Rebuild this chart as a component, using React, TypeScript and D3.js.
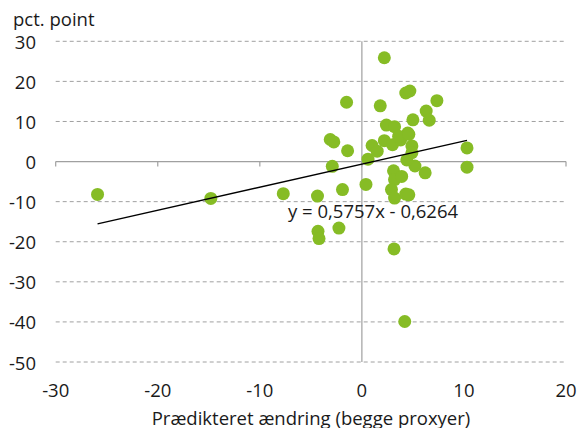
import React from "react";
import * as d3 from "d3";

const xValues = [
  -25.9, -14.8, -7.7, 2.2, -1.5, 1.8, 4.3, 4.7, 7.35, 6.3, 6.6, 5.0, 2.4, 3.2, 4.5,
  -3.1, -2.75, -1.4, -2.9, -4.35, -1.9, 0.4, 0.6, 1.0, 1.5, 2.2, 3.0, 3.8, 3.6, 4.9,
  4.9, 5.2, 6.2, 4.4, 3.1, 3.2, 3.9, 2.9, 3.2, 4.3, 4.6, 10.3, 10.3, -4.3, -4.2,
  -2.25, 3.15, 4.2, 4.6,
];
const yValues = [
  -8.2, -9.2, -8.0, 25.9, 14.8, 13.9, 17.1, 17.6, 15.2, 12.6, 10.3, 10.4, 9.1, 8.7, 7.1,
  5.5, 4.9, 2.7, -1.2, -8.6, -7.0, -5.7, 0.6, 4.0, 2.6, 5.2, 4.2, 5.4, 6.3, 3.9,
  2.2, -1.1, -2.8, 0.4, -2.3, -4.5, -3.7, -7.0, -9.1, -8.1, -8.3, 3.4, -1.4, -17.4, -19.2,
  -16.6, -21.8, -39.9, 6.8,
];
const xTicks = [-30, -20, -10, 0, 10, 20];
const yTicks = [30, 20, 10, 0, -10, -20, -30, -40, -50];
const slope = 0.5757;
const intercept = -0.6264;
const equationLabel = "y = 0,5757x - 0,6264";
const yTitle = "pct. point";
const xTitle = "Prædikteret ændring (begge proxyer)";

export default function App() {
  const W = 579, H = 428;
  const x = d3.scaleLinear().domain([-30, 20]).range([55.7, 566]);
  const y = d3.scaleLinear().domain([-50, 30]).range([362, 41.3]);
  const font = "'Open Sans', sans-serif";
  const fs = 18.5;
  const textColor = "#1a1a1a";
  const gridColor = "#a0a0a0";
  const pts = xValues.map((v, i) => [v, yValues[i]] as [number, number]);
  const xMin = d3.min(xValues) as number;
  const xMax = d3.max(xValues) as number;
  const line = d3.line<number>().x((d) => x(d)).y((d) => y(slope * d + intercept));
  return (
    <svg width={W} height={H} style={{ position: "absolute", left: 0, top: 0 }} fontFamily={font}>
      <rect width={W} height={H} fill="#fff" />
      {yTicks.filter((t) => t !== 0).map((t) => (
        <line key={t} x1={x(-30)} x2={x(20)} y1={y(t)} y2={y(t)} stroke={gridColor} strokeWidth={1} strokeDasharray="4,3" />
      ))}
      <line x1={x(0)} x2={x(0)} y1={y(30)} y2={y(-50)} stroke={gridColor} strokeWidth={1.2} />
      <line x1={x(-30)} x2={x(20)} y1={y(0)} y2={y(0)} stroke={gridColor} strokeWidth={1.2} />
      {xTicks.map((t) => (
        <line key={t} x1={x(t)} x2={x(t)} y1={y(0)} y2={y(0) + 5} stroke={gridColor} strokeWidth={1.2} />
      ))}
      {pts.map(([a, b], i) => (
        <circle key={i} cx={x(a)} cy={y(b)} r={6.5} fill="#86bc25" />
      ))}
      <path d={line([xMin, xMax]) || ""} stroke="#000" strokeWidth={1.3} fill="none" />
      <text x={288} y={210} fontSize={fs} fill={textColor} dominantBaseline="central">{equationLabel}</text>
      {yTicks.map((t) => (
        <text key={t} x={36} y={y(t)} fontSize={fs} fill={textColor} textAnchor="end" dominantBaseline="central">{t}</text>
      ))}
      {xTicks.map((t) => (
        <text key={t} x={x(t)} y={389} fontSize={fs} fill={textColor} textAnchor="middle" dominantBaseline="central">{t}</text>
      ))}
      <text x={13} y={26} fontSize={fs} fill={textColor}>{yTitle}</text>
      <text x={311} y={417} fontSize={fs} fill={textColor} textAnchor="middle" dominantBaseline="central">{xTitle}</text>
    </svg>
  );
}
